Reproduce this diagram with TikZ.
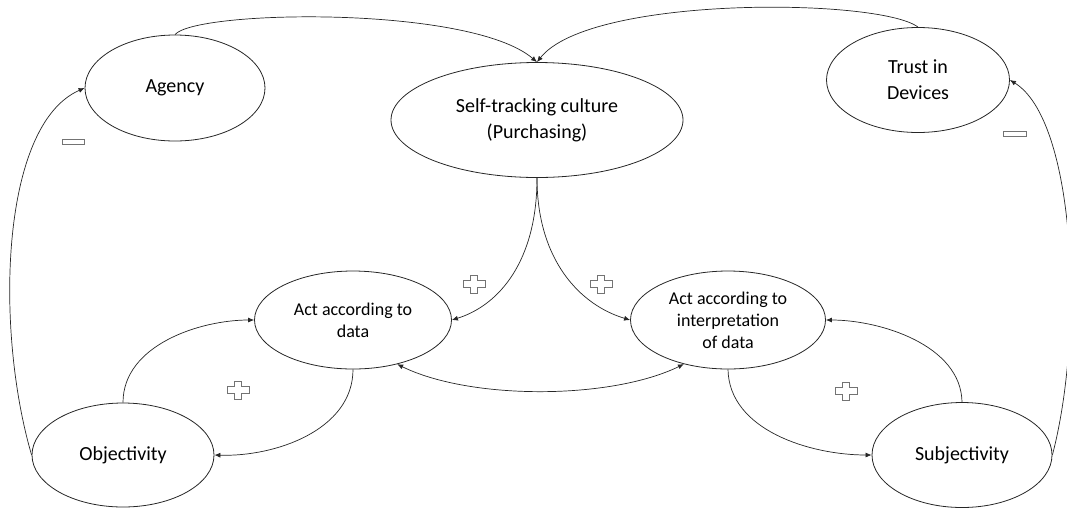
\documentclass[tikz,border=0pt]{standalone}
\usepackage{fontspec}
\setmainfont{Carlito}
\usetikzlibrary{arrows.meta,shapes.geometric}
\tikzset{el/.style={ellipse,draw=black!85,line width=.8pt,inner sep=0pt,align=center,font=\fontsize{20}{26}\selectfont},
 act/.style={el,font=\fontsize{18}{22}\selectfont},
 flow/.style={-{Latex[length=6pt,width=5pt]},line width=.7pt,black!85},
 sgn/.style={draw=black!55,line width=.8pt,fill=white}}

\begin{document}
\begin{tikzpicture}[x=1pt,y=-1pt]
\useasboundingbox (0,0) rectangle (1067,507);
% nodes
\node[el,minimum width=180,minimum height=106](ag) at (175,88){Agency};
\node[el,minimum width=292,minimum height=115](st) at (537,120){Self-tracking culture\\(Purchasing)};
\node[el,minimum width=183,minimum height=105](tr) at (918,80){Trust in\\Devices};
\node[act,minimum width=197,minimum height=98](ad) at (353,320){Act according to\\data};
\node[act,minimum width=195,minimum height=98](ai) at (728,320){Act according to\\interpretation\\of data};
\node[el,minimum width=182,minimum height=104](ob) at (123,455){Objectivity};
\node[el,minimum width=180,minimum height=105](sj) at (962,455){Subjectivity};
% links
\draw[flow](ag.north)..controls(195,10)and(470,5)..(st.north);
\draw[flow](tr.north)..controls(880,-2)and(590,-5)..(st.north);
\draw[flow](ob.west)..controls(-5,330)and(0,125)..(ag.west);
\draw[flow](sj.east)..controls(1085,330)and(1075,120)..(tr.east);
\draw[flow](st.south)..controls(537,260)and(500,305)..(ad.east);
\draw[flow](st.south)..controls(537,260)and(580,305)..(ai.west);
\draw[flow,{Latex[length=6pt,width=5pt]}-{Latex[length=6pt,width=5pt]}](ad.-45)..controls(470,400)and(610,400)..(ai.-135);
\draw[flow](ob.north)..controls(123,345)and(200,320)..(ad.west);
\draw[flow](ad.south)..controls(353,430)and(275,457)..(ob.east);
\draw[flow](ai.south)..controls(729,430)and(810,455)..(sj.west);
\draw[flow](sj.north)..controls(961,345)and(880,320)..(ai.east);
% signs
\foreach \px/\py in {474/284,601/284,238/390,846/391}
 \draw[sgn](\px-3.5,\py-9)--(\px+3.5,\py-9)--(\px+3.5,\py-3.5)--(\px+11,\py-3.5)--(\px+11,\py+3.5)--(\px+3.5,\py+3.5)
  --(\px+3.5,\py+9)--(\px-3.5,\py+9)--(\px-3.5,\py+3.5)--(\px-11,\py+3.5)--(\px-11,\py-3.5)--(\px-3.5,\py-3.5)--cycle;
\draw[sgn](62,139)rectangle(84,144);
\draw[sgn](1003,131)rectangle(1026,136);
\end{tikzpicture}
\end{document}
